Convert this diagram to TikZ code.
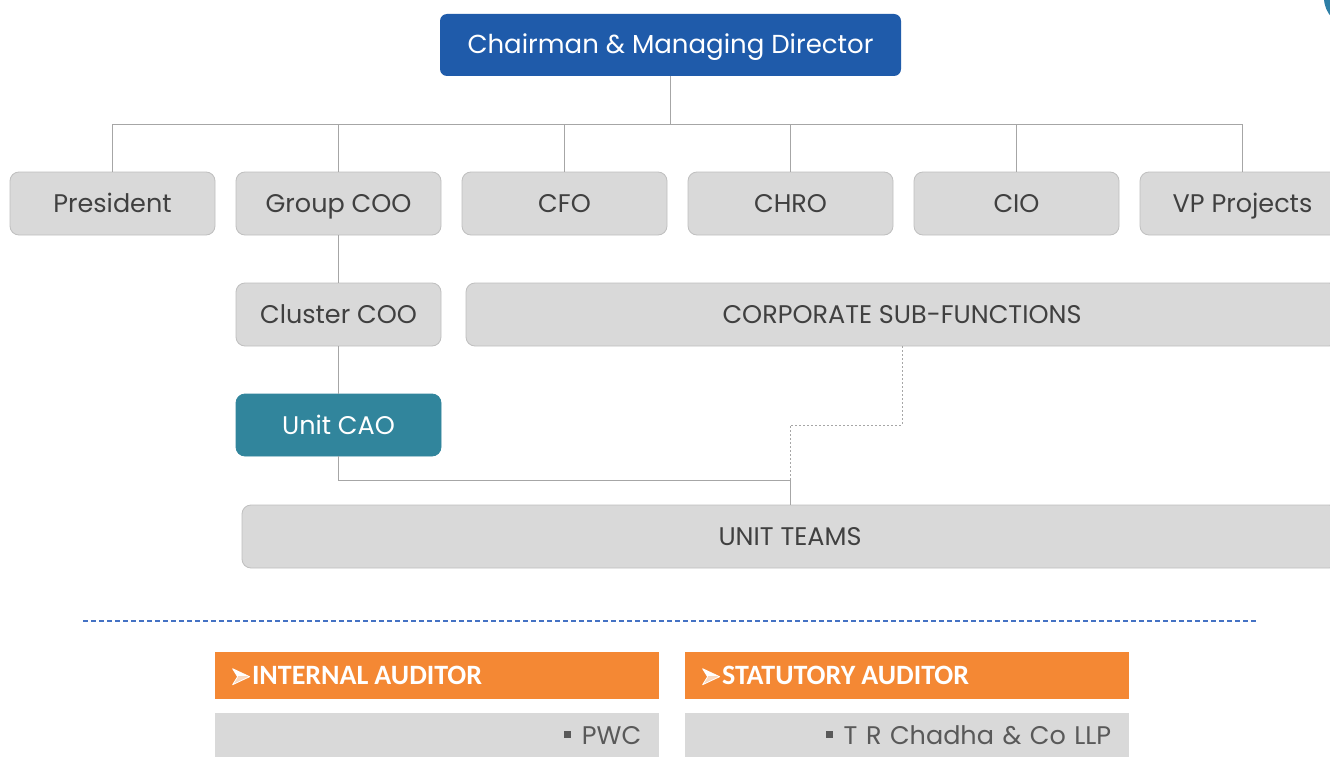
\documentclass[tikz,border=0pt]{standalone}
\usepackage{fontspec}
\setmainfont{Poppins}
\newfontfamily\carlito{Carlito}
\definecolor{boxgray}{HTML}{D9D9D9}
\definecolor{boxedge}{HTML}{BFBFBF}
\definecolor{txtgray}{HTML}{404040}
\definecolor{rowtxt}{HTML}{595959}
\definecolor{linegray}{HTML}{A6A6A6}
\definecolor{chairblue}{HTML}{1F5BAA}
\definecolor{caoteal}{HTML}{31859C}
\definecolor{dashblue}{HTML}{4472C4}
\definecolor{audorange}{HTML}{F48834}
\definecolor{arrshade}{HTML}{FBD9BF}
\definecolor{circblue}{HTML}{2E7FA6}
\tikzset{
  orgbox/.style={draw=boxedge, line width=0.8pt, fill=boxgray, rounded corners=9pt,
    minimum height=63pt, text=txtgray, font=\fontsize{25.5}{30}\selectfont, inner sep=0pt,
    text height=18pt, text depth=0pt},
  chairbox/.style={draw=none, fill=chairblue, rounded corners=7pt, minimum width=461pt,
    minimum height=62pt, text=white, font=\fontsize{26}{30}\selectfont, inner sep=0pt,
    text height=18pt, text depth=0pt},
  caobox/.style={orgbox, draw=caoteal, fill=caoteal, text=white},
  conn/.style={draw=linegray, line width=0.9pt},
  dotconn/.style={draw=linegray, line width=1pt, dash pattern=on 2pt off 2pt},
  audhead/.style={fill=audorange, minimum width=444pt, minimum height=47pt, text=white,
    font=\carlito\bfseries\fontsize{28}{32}\selectfont, anchor=north west, inner sep=0pt,
    text width=410pt, align=left, text height=18pt, text depth=0pt},
  audrow/.style={fill=boxgray, minimum width=444pt, minimum height=44pt, text=rowtxt,
    font=\fontsize{25.5}{30}\selectfont, anchor=north west, inner sep=0pt, align=right,
    text width=408pt, text height=18pt, text depth=0pt},
}
\newcommand{\sqbul}{{\color{rowtxt}\rule[6pt]{7pt}{7pt}}\hspace{11pt}}
\newcommand{\arrhead}{\tikz[baseline=0pt]{%
  \fill[white] (0pt,16pt) -- (17pt,8pt) -- (5pt,8pt) -- cycle;
  \fill[arrshade] (0pt,0pt) -- (17pt,8pt) -- (5pt,8pt) -- cycle;
  \draw[white, line width=0.8pt, line join=round] (0pt,16pt) -- (17pt,8pt) -- (0pt,0pt) -- (5pt,8pt) -- cycle;}\hspace{2pt}}
\begin{document}
\begin{tikzpicture}[x=1pt, y=-1pt]
\useasboundingbox (0,0) rectangle (1330,757);
\clip (0,0) rectangle (1330,757);
\fill[white] (0,0) rectangle (1330,757);
% corner circle
\fill[circblue] (1352,-2) circle (28);
% nodes
\node[chairbox] (chair) at (670.5,45) {Chairman \& Managing Director};
\node[orgbox, minimum width=205pt] (pres) at (112.5,203.5) {President};
\node[orgbox, minimum width=205pt] (gcoo) at (338.5,203.5) {Group COO};
\node[orgbox, minimum width=205pt] (cfo) at (564.5,203.5) {CFO};
\node[orgbox, minimum width=205pt] (chro) at (790.5,203.5) {CHRO};
\node[orgbox, minimum width=205pt] (cio) at (1016.5,203.5) {CIO};
\node[orgbox, minimum width=205pt] (vp) at (1242.5,203.5) {VP Projects};
\node[orgbox, minimum width=205pt] (ccoo) at (338.5,314.5) {Cluster COO};
\node[orgbox, minimum width=872pt] (corp) at (902,314.5) {CORPORATE SUB-FUNCTIONS};
\node[caobox, minimum width=205pt, minimum height=62pt] (cao) at (338.5,425) {Unit CAO};
\node[orgbox, minimum width=1096pt] (unit) at (790,536.5) {UNIT TEAMS};
% connectors
\coordinate (bus) at (112,124);
\draw[conn] (chair.south) -- (chair.south |- bus);
\draw[conn] (pres.north) -- (pres.north |- bus) -- (vp.north |- bus) -- (vp.north);
\draw[conn] (gcoo.north) -- (gcoo.north |- bus);
\draw[conn] (cfo.north) -- (cfo.north |- bus);
\draw[conn] (chro.north) -- (chro.north |- bus);
\draw[conn] (cio.north) -- (cio.north |- bus);
\draw[conn] (gcoo.south) -- (ccoo.north);
\draw[conn] (ccoo.south) -- (cao.north);
\coordinate (ujoin) at (790,480);
\draw[conn] (cao.south) -- (cao.south |- ujoin) -- (ujoin) -- (ujoin |- unit.north);
\coordinate (dstep) at (790,425);
\draw[dotconn] (corp.south) -- (corp.south |- dstep) -- (dstep) -- (ujoin);
% dashed separator
\coordinate (sepL) at (83,621);
\coordinate (sepR) at (1256,621);
\draw[dashblue, line width=1.2pt, dash pattern=on 5pt off 3pt] (sepL) -- (sepR);
% auditors
\node[audhead] (ia) at (215,652) {\arrhead INTERNAL\hspace{6pt}AUDITOR};
\node[audrow] (iar) at (215,713) {\sqbul PWC};
\node[audhead] (sa) at (685,652) {\arrhead STATUTORY\hspace{6pt}AUDITOR};
\node[audrow] (sar) at (685,713) {\sqbul T R Chadha \& Co LLP};
\end{tikzpicture}
\end{document}
